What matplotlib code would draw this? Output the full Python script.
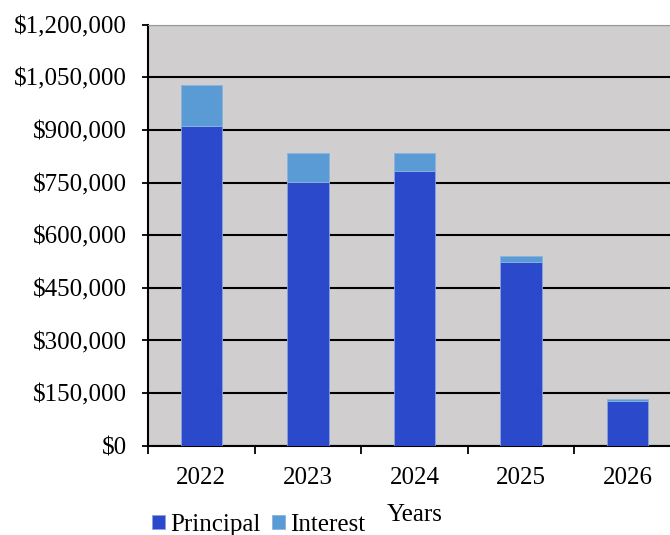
import matplotlib.pyplot as plt
import numpy as np

plt.rcParams['font.family'] = ['Liberation Serif', 'DejaVu Serif']

# Datos de pagos por año
years = ["2022", "2023", "2024", "2025", "2026"]
principal = [911000, 751000, 783000, 523000, 127000]
interest = [116000, 83000, 51000, 18000, 5000]

x = np.arange(len(years))

fig = plt.figure(figsize=(6.7, 5.35), dpi=100)
# el área de trazado sigue un poco más allá del borde derecho
ax = fig.add_axes([0.2209, 0.1669, 0.7955, 0.7869])
ax.set_facecolor("#d0cece")

ax.bar(x, principal, width=0.39, color="#2b4acb", edgecolor="#8aa2e0",
       linewidth=0.6, label="Principal", zorder=3)
ax.bar(x, interest, width=0.39, bottom=principal, color="#5b9bd5",
       edgecolor="#8ab4e0", linewidth=0.6, label="Interest", zorder=3)

ax.set_xlim(-0.5, 4.5)
ax.set_ylim(0, 1200000)
ticks = np.arange(0, 1200001, 150000)
ax.set_yticks(ticks)
ax.set_yticklabels(["${:,}".format(t) for t in ticks], fontsize=18)
ax.yaxis.grid(True, color="black", linewidth=1.5, zorder=1)

# Marcas del eje x entre categorías, etiquetas centradas
ax.set_xticks(np.arange(-0.5, 4.5, 1.0))
ax.set_xticklabels([])
ax.set_xticks(x, minor=True)
ax.set_xticklabels(years, minor=True, fontsize=18)
ax.tick_params(axis="x", which="minor", length=0, pad=15)
ax.tick_params(axis="x", which="major", length=6, width=1.3, direction="out")
ax.tick_params(axis="y", length=4, width=1.3, direction="out", pad=11)

ax.spines["right"].set_visible(False)
ax.spines["top"].set_color("#999999")
ax.spines["left"].set_linewidth(1.5)
ax.spines["bottom"].set_linewidth(1.5)

ax.set_xlabel("Years", fontsize=18, labelpad=11)
fig.legend(loc="center left", bbox_to_anchor=(152 / 670, (535 - 525) / 535),
           ncol=2, frameon=False, fontsize=18, handlelength=0.52,
           handleheight=0.52, handletextpad=0.2, columnspacing=0.45,
           borderpad=0, borderaxespad=0)

plt.savefig("out.png", dpi=100)
